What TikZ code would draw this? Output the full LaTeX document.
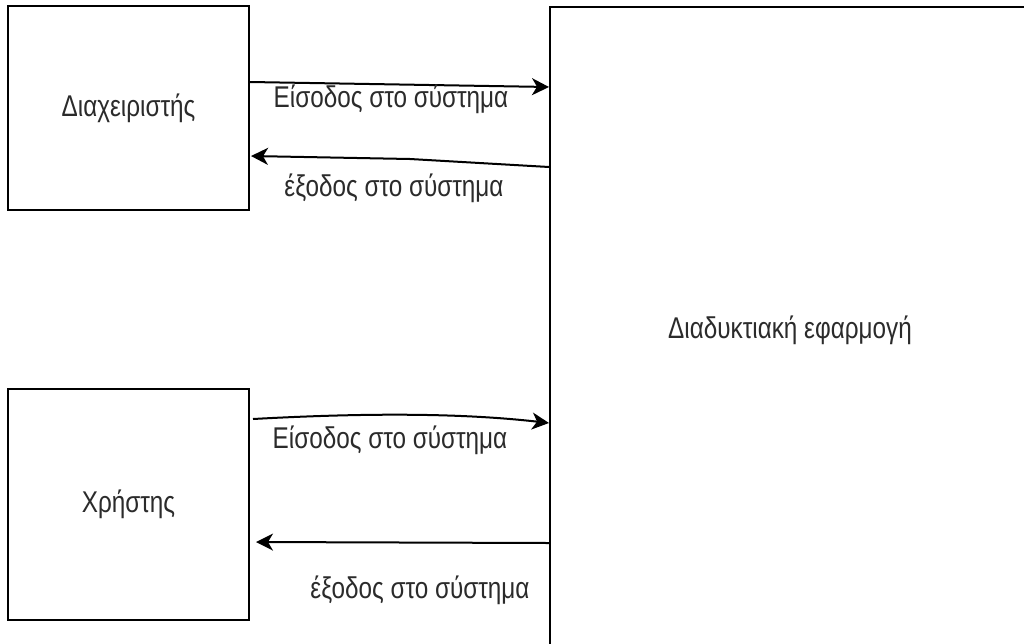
\documentclass[tikz,border=0pt]{standalone}
\usepackage{fontspec}
\setmainfont{Liberation Sans}[FakeStretch=0.81]
\usetikzlibrary{arrows.meta,calc}
\definecolor{txt}{HTML}{2B2B2B}
\tikzset{
  box/.style={draw=black,line width=2pt,fill=white,inner sep=0pt,text=txt,font=\fontsize{30}{34}\selectfont},
  lbl/.style={text=txt,inner sep=0pt,font=\fontsize{30}{34}\selectfont},
  conn/.style={draw=black,line width=2pt,-{Stealth[length=17pt,width=17pt,inset=5pt]}}
}
\begin{document}
\begin{tikzpicture}[x=1pt,y=-1pt]
\useasboundingbox (0,0) rectangle (1024,643);
\clip (0,0) rectangle (1024,643);
\fill[white] (0,0) rectangle (1024,643);
\node[box,minimum width=241pt,minimum height=204pt] (admin) at (128.5,108) {Διαχειριστής};
\node[box,minimum width=241pt,minimum height=231pt] (user) at (128.5,504.5) {Χρήστης};
\node[box,minimum width=500pt,minimum height=660pt,anchor=north west] (app) at (549,6) {};
\node[lbl] (applbl) at (790,330) {Διαδυκτιακή εφαρμογή};
% connection points
\coordinate (a1) at ($(admin.north east)+(0,77)$);
\coordinate (b1) at ($(app.north west)+(0,81)$);
\coordinate (b2) at ($(app.north west)+(0,161)$);
\coordinate (a2) at ($(admin.north east)+(1,151)$);
\coordinate (u1) at ($(user.north east)+(3,31)$);
\coordinate (b3) at ($(app.north west)+(0,417)$);
\coordinate (b4) at ($(app.north west)+(0,537)$);
\coordinate (u2) at ($(user.north east)+(6,154)$);
\draw[conn] (a1) -- (b1);
\draw[conn] (b2) -- (410,159) -- (a2);
\draw[conn] (u1) .. controls (380,412) and (470,414) .. (b3);
\draw[conn] (b4) -- (u2);
\node[lbl] (l1) at (391,99) {Είσοδος στο σύστημα};
\node[lbl] (l2) at (394,188) {έξοδος στο σύστημα};
\node[lbl] (l3) at (390,440) {Είσοδος στο σύστημα};
\node[lbl] (l4) at (420,590) {έξοδος στο σύστημα};
\end{tikzpicture}
\end{document}
